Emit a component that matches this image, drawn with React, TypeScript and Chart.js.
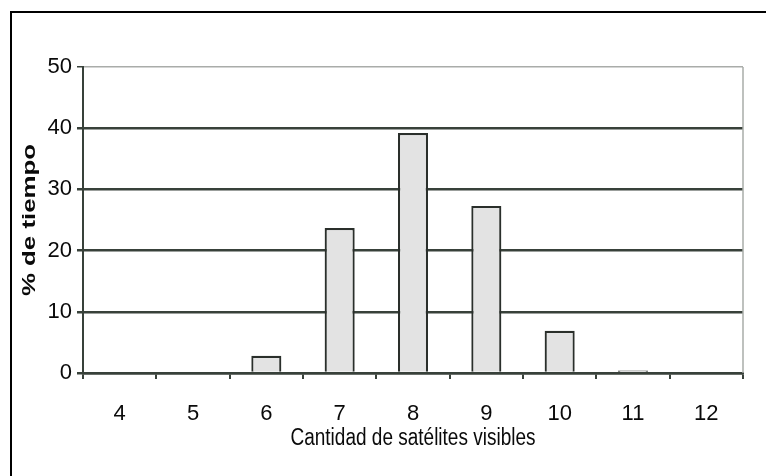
import React, { useEffect, useRef } from "react";
import { Chart, registerables } from "chart.js";

Chart.register(...registerables);

// Satellites in view and share of time (%)
const satelliteCounts = ["4", "5", "6", "7", "8", "9", "10", "11", "12"];
const timeShare = [0, 0, 2.8, 23.7, 39.2, 27.3, 6.9, 0.4, 0];
const yTicks = [0, 10, 20, 30, 40, 50];

const axisTitleX = "Cantidad de satélites visibles";
const axisTitleY = "% de tiempo";

const DARK = "#38413a";
const LIGHT = "#a9aca9";
const TEXT = "#0a0a0a";
const FONT = "'Liberation Sans', Arial, sans-serif";

// Light border on the right edge of the plot area
const plotFramePlugin = {
  id: "plotFrame",
  afterDatasetsDraw(chart: any) {
    const { ctx, chartArea } = chart;
    ctx.save();
    ctx.strokeStyle = LIGHT;
    ctx.lineWidth = 1.5;
    ctx.beginPath();
    ctx.moveTo(chartArea.right, chartArea.top);
    ctx.lineTo(chartArea.right, chartArea.bottom);
    ctx.stroke();
    ctx.restore();
  },
};

// Axis titles in a tall, narrow lettering
const axisTitlesPlugin = {
  id: "axisTitles",
  afterDraw(chart: any) {
    const { ctx, chartArea, height } = chart;
    ctx.save();
    ctx.fillStyle = TEXT;
    ctx.textAlign = "center";
    ctx.textBaseline = "middle";

    // horizontal title under the category labels
    ctx.save();
    ctx.translate((chartArea.left + chartArea.right) / 2, height - 38);
    ctx.scale(1, 1.3);
    ctx.font = `19px ${FONT}`;
    ctx.fillText(axisTitleX, 0, 0);
    ctx.restore();

    // vertical title left of the value labels
    ctx.save();
    ctx.translate(30, (chartArea.top + chartArea.bottom) / 2);
    ctx.rotate(-Math.PI / 2);
    ctx.scale(1.36, 1);
    ctx.font = `bold 19px ${FONT}`;
    ctx.fillText(axisTitleY, 0, 0);
    ctx.restore();

    ctx.restore();
  },
};

export default function App() {
  const canvasRef = useRef<HTMLCanvasElement | null>(null);

  useEffect(() => {
    const canvas = canvasRef.current;
    if (!canvas) return;
    const chart = new Chart(canvas, {
      type: "bar",
      data: {
        labels: satelliteCounts,
        datasets: [
          {
            data: timeShare,
            backgroundColor: "#e3e3e3",
            borderColor: "#2a2f2b",
            borderWidth: 2.2,
            borderSkipped: "bottom",
            barPercentage: 0.41,
            categoryPercentage: 1,
          },
        ],
      },
      options: {
        responsive: false,
        animation: false,
        layout: { padding: { left: 0, top: 67, right: 23, bottom: 0 } },
        plugins: { legend: { display: false }, tooltip: { enabled: false } },
        scales: {
          x: {
            afterFit(scale: any) {
              scale.height = 103;
            },
            grid: {
              offset: true,
              drawOnChartArea: false,
              drawTicks: true,
              tickLength: 6,
              tickColor: DARK,
              lineWidth: 2,
            },
            border: { display: true, color: DARK, width: 2.5 },
            ticks: {
              color: TEXT,
              padding: 22,
              font: { family: FONT, size: 22 },
            },
            title: { display: false },
          },
          y: {
            min: 0,
            max: 50,
            afterFit(scale: any) {
              scale.width = 83;
            },
            afterBuildTicks(scale: any) {
              scale.ticks = yTicks.map((v) => ({ value: v }));
            },
            grid: {
              color: (c: any) => (c.tick && c.tick.value === 50 ? LIGHT : DARK),
              lineWidth: (c: any) => (c.tick && c.tick.value === 50 ? 1.5 : 2.5),
              tickColor: DARK,
              tickLength: 6,
            },
            border: { display: true, color: DARK, width: 2 },
            ticks: {
              color: TEXT,
              padding: 5,
              font: { family: FONT, size: 22 },
            },
            title: { display: false },
          },
        },
      },
      plugins: [plotFramePlugin, axisTitlesPlugin],
    });
    return () => chart.destroy();
  }, []);

  return (
    <div
      style={{
        position: "fixed",
        left: 0,
        top: 0,
        width: 766,
        height: 476,
        background: "#ffffff",
        overflow: "hidden",
      }}
    >
      <div
        style={{
          position: "absolute",
          left: 10,
          top: 11,
          width: 800,
          height: 500,
          border: "2px solid #000",
        }}
      />
      <canvas
        ref={canvasRef}
        width={766}
        height={476}
        style={{ position: "absolute", left: 0, top: 0 }}
      />
    </div>
  );
}
